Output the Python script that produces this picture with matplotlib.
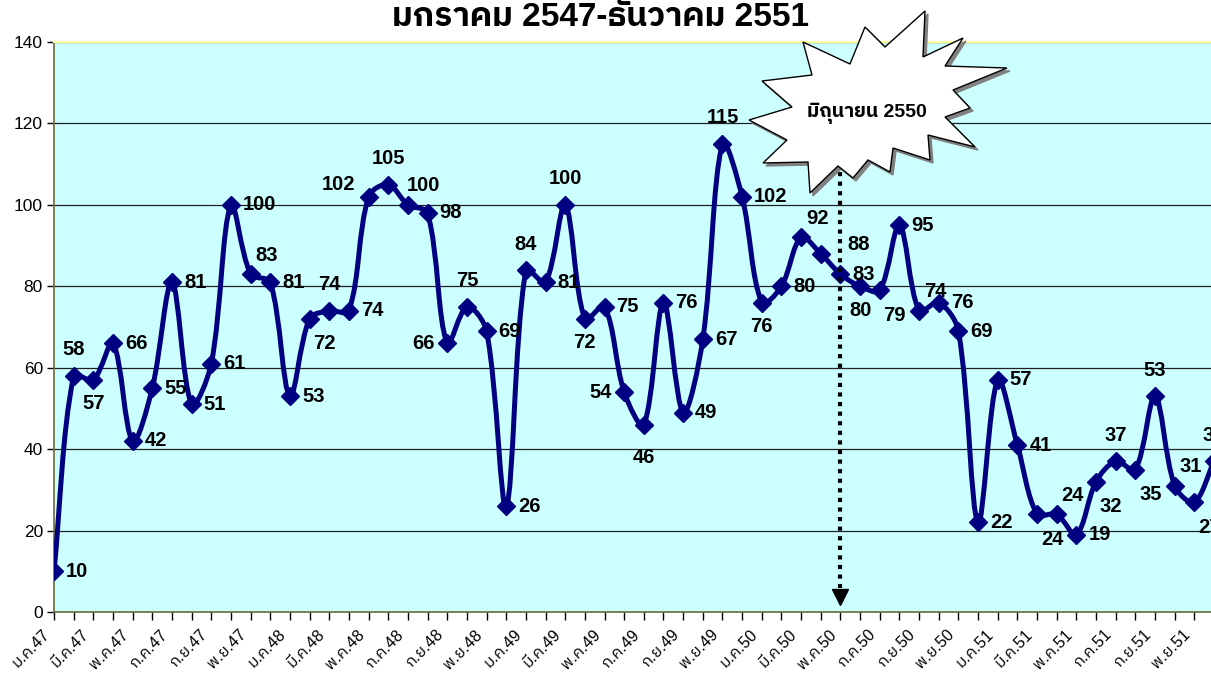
import numpy as np
import matplotlib
matplotlib.use('Agg')
from matplotlib import pyplot as plt
from matplotlib import font_manager
from matplotlib.ft2font import FT2Font
from matplotlib.path import Path
from matplotlib.patches import PathPatch, Polygon

# monthly values, ม.ค.47 - ธ.ค.51
values = [10, 58, 57, 66, 42, 55, 81, 51, 61, 100, 83, 81,
          53, 72, 74, 74, 102, 105, 100, 98, 66, 75, 69, 26,
          84, 81, 100, 72, 75, 54, 46, 76, 49, 67, 115, 102,
          76, 80, 92, 88, 83, 80, 79, 95, 74, 76, 69, 22,
          57, 41, 24, 24, 19, 32, 37, 35, 53, 31, 27, 37]
month_abbr = ['ม.ค.', 'มี.ค.', 'พ.ค.', 'ก.ค.', 'ก.ย.', 'พ.ย.']
years = ['47', '48', '49', '50', '51']
title = 'มกราคม 2547-ธันวาคม 2551'
callout = 'มิถุนายน 2550'
callout_month = 40

# where each data label sits relative to its point
label_pos = ['r', 'a', 'b', 'r', 'r', 'r', 'r', 'r', 'r', 'r', 'ar', 'r',
             'r', 'br', 'a', 'r', 'al', 'a', 'ar', 'r', 'l', 'a', 'r', 'r',
             'a', 'r', 'a', 'b', 'r', 'l', 'bb', 'r', 'r', 'r', 'a', 'r',
             'b', 'r', 'ar', 'rr', 'r', 'b', 'br', 'r', 'ar', 'r', 'r', 'r',
             'r', 'r', 'br', 'ar', 'r', 'br', 'a', 'br', 'a', 'ar', 'br', 'a']
offsets = {'r': (12, 0, 'left'), 'l': (-12, 0, 'right'),
           'a': (0, 26, 'center'), 'b': (0, -24, 'center'),
           'bb': (0, -33, 'center'),
           'ar': (16, 19, 'center'), 'br': (15, -25, 'center'),
           'al': (-30, 12, 'center'), 'rr': (27, 9, 'left')}


def thai_families():
    found = []
    for f in font_manager.fontManager.ttflist:
        if f.name in found:
            continue
        try:
            cmap = FT2Font(f.fname).get_charmap()
        except Exception:
            continue
        if 0x0E01 in cmap:
            found.append(f.name)
    found.sort(key=lambda n: ('Thai' not in n, 'Serif' in n, n))
    return found


fams = ['Liberation Sans'] + thai_families()[:2] + ['DejaVu Sans']
plt.rcParams['font.family'] = fams

W, H = 1211, 673
fig = plt.figure(figsize=(W / 100, H / 100), dpi=100)
ax = fig.add_axes([54 / W, 1 - 612 / H, (1214 - 54) / W, (612 - 42) / H])
ax.set_facecolor('#CCFFFF')

n = len(values)
x = np.arange(n)
ax.set_xlim(0, n - 1)
ax.set_ylim(0, 140)
ax.set_yticks(range(0, 141, 20))
ax.yaxis.grid(True, color='#202020', linewidth=0.9)
ax.set_axisbelow(True)

# smoothed line, excel style: tangents scaled by neighbouring segment lengths (screen space)
D = ax.transData.transform(np.column_stack([x, values]).astype(float))
verts = [D[0]]
codes = [Path.MOVETO]
for i in range(n - 1):
    p0 = D[max(i - 1, 0)]
    p1 = D[i]
    p2 = D[i + 1]
    p3 = D[min(i + 2, n - 1)]
    l01 = np.hypot(*(p1 - p0))
    l12 = np.hypot(*(p2 - p1))
    l23 = np.hypot(*(p3 - p2))
    c1 = p1 + (p2 - p0) * (l12 / (l01 + l12)) / 3 if l01 + l12 > 0 else p1
    c2 = p2 - (p3 - p1) * (l12 / (l12 + l23)) / 3 if l12 + l23 > 0 else p2
    verts += [c1, c2, p2]
    codes += [Path.CURVE4] * 3
verts = ax.transData.inverted().transform(np.array(verts))
ax.add_patch(PathPatch(Path(verts, codes), facecolor='none', edgecolor='#000080',
                       linewidth=3.6, zorder=3, capstyle='round', joinstyle='round'))
ax.plot(x, values, linestyle='none', marker='D', markersize=9.5, color='#000080', zorder=4)

for i, v in enumerate(values):
    dx, dy, ha = offsets[label_pos[i]]
    ax.annotate(str(v), (i, v), xytext=(dx, dy), textcoords='offset pixels',
                ha=ha, va='center', fontsize=14.5, fontweight='bold',
                color='black', zorder=5, annotation_clip=False)

# x ticks every month, labels every second month (drawn by hand so they sit like excel's)
tick_labels = []
for y in years:
    for m in month_abbr:
        tick_labels += [m + y, '']
ax.set_xticks(x)
ax.set_xticklabels([])
for i, lab in enumerate(tick_labels[:n]):
    if lab:
        ax.annotate(lab, (i, 0), xycoords=('data', 'axes fraction'), xytext=(-12, -15),
                    textcoords='offset pixels', rotation=45, ha='right', va='top',
                    rotation_mode='anchor', fontsize=11.5, annotation_clip=False)
ax.tick_params(axis='x', length=6, width=1, color='black', pad=3)
ax.tick_params(axis='y', length=5, width=1, color='black', labelsize=12.5, pad=3)

for s in ['left', 'bottom']:
    ax.spines[s].set_color('#6b6b3a')
    ax.spines[s].set_linewidth(1.2)
ax.spines['top'].set_color('#FFFF99')
ax.spines['top'].set_linewidth(1.5)
ax.spines['right'].set_visible(False)

# dotted arrow down to the callout month
ax.plot([callout_month, callout_month], [108, 6], color='black', linewidth=3,
        linestyle=(0, (1, 1.3)), zorder=6)
ax.plot([callout_month], [3.6], marker='v', markersize=11, color='black', zorder=6)

# star callout (figure pixels)
star = [(803, 42), (850, 64), (865, 27), (885, 47), (925, 11), (923, 57), (963, 38),
        (945, 66), (1007, 68), (953, 90), (970, 108), (945, 117), (975, 147), (928, 135),
        (930, 160), (893, 148), (890, 172), (868, 160), (853, 178), (838, 166), (810, 193),
        (808, 162), (763, 163), (787, 140), (749, 120), (792, 107), (762, 81), (812, 75)]
shadow = [((px + 3) / W, 1 - (py + 3) / H) for px, py in star]
pts = [(px / W, 1 - py / H) for px, py in star]
fig.patches.append(Polygon(shadow, closed=True, transform=fig.transFigure,
                           facecolor='#808080', edgecolor='#808080', zorder=7))
fig.patches.append(Polygon(pts, closed=True, transform=fig.transFigure,
                           facecolor='white', edgecolor='black', linewidth=1, zorder=8))
fig.text(867 / W, 1 - 113 / H, callout, ha='center', va='center', fontsize=14,
         fontweight='bold', zorder=9)

fig.text(601 / W, 1 - 17 / H, title, ha='center', va='center', fontsize=24, fontweight='bold')

fig.savefig('out.png', dpi=100, facecolor='white')
